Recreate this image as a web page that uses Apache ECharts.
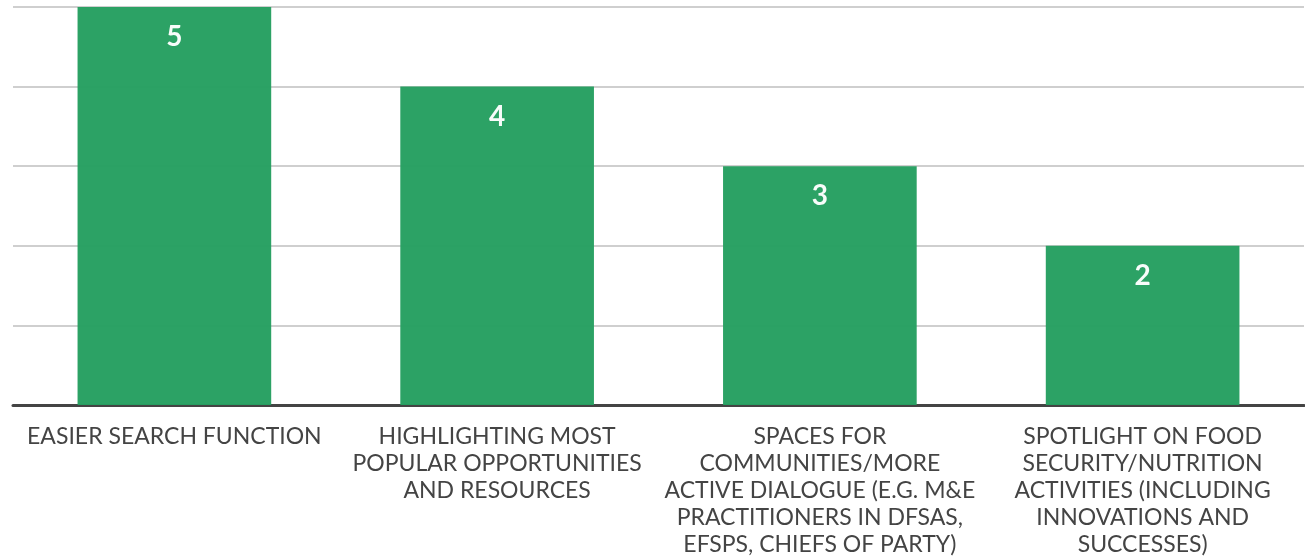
<!DOCTYPE html>
<html>
<head>
<meta charset="utf-8">
<script src="https://cdn.jsdelivr.net/npm/echarts@6/dist/echarts.min.js"></script>
<style>
  html, body { margin: 0; padding: 0; background: #fff; }
  #main { width: 1305px; height: 557px; }
</style>
</head>
<body>
<div id="main"></div>
<script>
// categories, pre-wrapped like the source
const categories = [
  'EASIER SEARCH FUNCTION',
  'HIGHLIGHTING MOST\nPOPULAR OPPORTUNITIES\nAND RESOURCES',
  'SPACES FOR\nCOMMUNITIES/MORE\nACTIVE DIALOGUE (E.G. M&E\nPRACTITIONERS IN DFSAS,\nEFSPS, CHIEFS OF PARTY)',
  'SPOTLIGHT ON FOOD\nSECURITY/NUTRITION\nACTIVITIES (INCLUDING\nINNOVATIONS AND\nSUCCESSES)'
]
const counts = [5, 4, 3, 2]
const yTicks = [0, 1, 2, 3, 4, 5]

const chart = echarts.init(document.getElementById('main'))
chart.setOption({
  animation: false,
  grid: { left: 13, right: 1, top: 7, bottom: 152, outerBoundsMode: 'none' },
  xAxis: {
    type: 'category',
    data: categories,
    axisTick: { show: false },
    axisLine: { lineStyle: { color: '#444', width: 3 } },
    axisLabel: {
      interval: 0,
      margin: 18,
      color: '#444',
      fontFamily: 'Lato',
      fontSize: 23,
      lineHeight: 27,
      align: 'center'
    }
  },
  yAxis: {
    type: 'value',
    min: yTicks[0],
    max: yTicks[yTicks.length - 1],
    interval: 1,
    axisLabel: { show: false },
    axisLine: { show: false },
    axisTick: { show: false },
    splitLine: { lineStyle: { color: '#cfcfcf', width: 2 } }
  },
  series: [{
    type: 'bar',
    data: counts,
    barWidth: '60%',
    itemStyle: { color: '#259f60', opacity: 0.97 },
    label: {
      show: true,
      position: 'insideTop',
      distance: 16,
      color: '#fff',
      fontFamily: 'Lato',
      fontWeight: 'bold',
      fontSize: 28
    }
  }]
})
</script>
</body>
</html>
